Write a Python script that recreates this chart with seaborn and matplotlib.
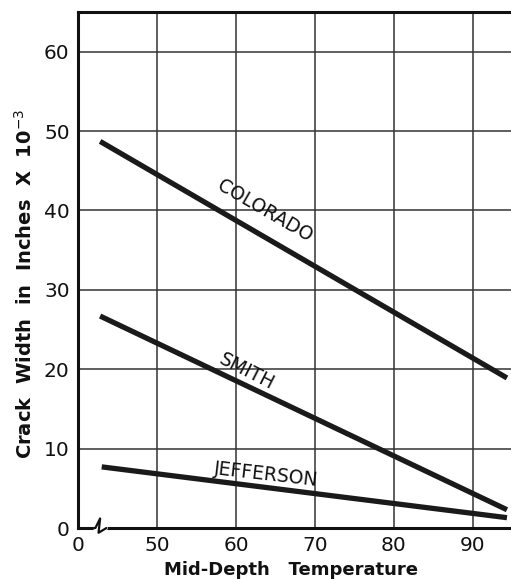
import matplotlib
matplotlib.use("Agg")
import matplotlib.pyplot as plt
import seaborn as sns
import pandas as pd

# Data (start / end of each straight line)
series = ["COLORADO", "SMITH", "JEFFERSON"]
temp_start = [42.8, 42.8, 43.0]
temp_end = [94.3, 94.3, 94.3]
width_start = [48.7, 26.7, 7.7]
width_end = [18.9, 2.3, 1.3]

x_ticks = [40, 50, 60, 70, 80, 90]
x_tick_labels = ["0", "50", "60", "70", "80", "90"]
y_ticks = [0, 10, 20, 30, 40, 50, 60]

rows = []
for s, x0, x1, y0, y1 in zip(series, temp_start, temp_end, width_start, width_end):
    rows.append({"series": s, "temp": x0, "width": y0})
    rows.append({"series": s, "temp": x1, "width": y1})
df = pd.DataFrame(rows)

sns.set_theme(style="white")
plt.rcParams["font.family"] = ["DejaVu Sans"]

W, H = 511, 579
fig = plt.figure(figsize=(W / 100, H / 100), dpi=100)
ax = fig.add_axes([78 / W, 51 / H, 434.5 / W, 516 / H])

sns.lineplot(data=df, x="temp", y="width", units="series", estimator=None,
             color="#1a1a1a", lw=3.8, ax=ax, legend=False, solid_capstyle="butt")

ax.set_xlim(40, 95)
ax.set_ylim(0, 65)
ax.set_xticks(x_ticks)
ax.set_xticklabels(x_tick_labels)
ax.set_yticks(y_ticks)
ax.grid(True, color="#333333", lw=1.1)
ax.set_axisbelow(True)
ax.tick_params(length=0, labelsize=14.5, colors="#111111")
ax.tick_params(axis="x", pad=6)
ax.tick_params(axis="y", pad=6)
for sp in ["left", "bottom", "top"]:
    ax.spines[sp].set_color("#111111")
    ax.spines[sp].set_linewidth(2.2)
ax.spines["right"].set_visible(False)

ax.set_xlabel("Mid-Depth   Temperature", fontsize=13, fontweight="bold",
              color="#111111", labelpad=0)
ax.set_ylabel("Crack  Width  in  Inches  X  10$^{-3}$", fontsize=14,
              fontweight="bold", color="#111111")
ax.xaxis.set_label_coords(0.49, -0.063)
ax.yaxis.set_label_coords(-0.098, 0.473)

# line labels
lab_kw = dict(ha="center", va="center", fontsize=13.5, color="#111111")
ax.text(63.6, 39.9, "COLORADO", rotation=-30, **lab_kw)
ax.text(61.4, 19.7, "SMITH", rotation=-27, **lab_kw)
ax.text(63.8, 6.8, "JEFFERSON", rotation=-6.5, **lab_kw)

# axis break symbol on the x axis
ax.plot([42.1, 43.5], [0, 0], color="white", lw=3, clip_on=False, zorder=5)
ax.plot([42.0, 42.2, 42.8, 42.6, 43.6], [0, 0, 1.2, -0.6, 0],
        color="#111111", lw=1.6, clip_on=False, zorder=6)

fig.savefig("out.png", dpi=100, facecolor="white")
